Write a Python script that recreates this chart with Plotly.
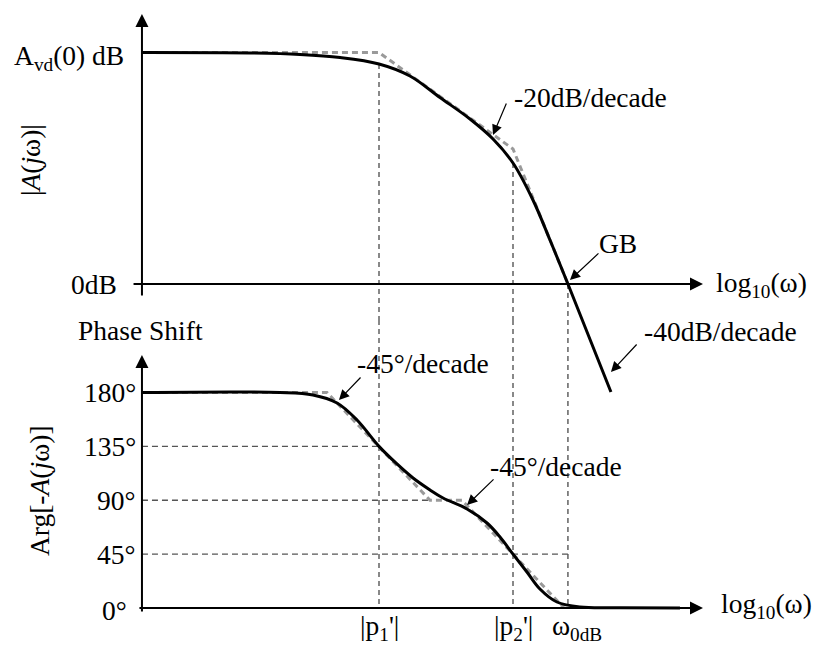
import plotly.graph_objects as go

# ---------------- data: x is log10(ω), magnitude in dB, phase in degrees ----------------
log_p1 = 2.0
log_p2 = 3.0
log_w0db = 3.41
avd0_db = 48.0

# exact magnitude response |A(jω)|
mag_logw = [0.231, 1.037, 1.410, 1.709, 2.0, 2.231, 2.455, 2.679, 2.851, 3.0,
            3.149, 3.276, 3.41, 3.731]
mag_db = [48.0, 47.9, 47.59, 46.96, 45.62, 43.13, 38.67, 34.21, 30.06, 25.09,
          17.42, 9.12, 0.0, -22.39]

# straight-line (asymptotic) magnitude
mag_asym_logw = [0.231, 2.0, 3.0, 3.41]
mag_asym_db = [48.0, 48.0, 28.0, 0.0]

# exact phase response Arg[-A(jω)]
ph_logw = [0.231, 1.261, 1.507, 1.687, 1.836, 2.0, 2.134, 2.254, 2.381, 2.478,
           2.657, 2.806, 2.903, 3.0, 3.104, 3.201, 3.328, 3.5, 3.799, 4.246]
ph_deg = [180, 180, 177.9, 171.2, 157.0, 135.0, 120.3, 108.6, 98.6, 91.9,
          82.7, 71.0, 59.3, 45.0, 30.1, 15.9, 5.0, 0.8, 0.2, 0.0]

# straight-line (asymptotic) phase
ph_asym_logw = [0.231, 1.612, 2.381, 2.619, 3.381]
ph_asym_deg = [180, 180, 90, 90, 0]

# phase tick labels and guide lines
ph_ticks = [180, 135, 90, 45, 0]
ph_guides = [135, 90, 45]
ph_guide_end = [2.0, 2.381, 3.41]

# ---------------- layout calibration ----------------
W, H = 817, 645
X_RANGE = [-0.8284, 5.2687]
MAG_DOMAIN = [1 - 400 / H, 1]
PH_DOMAIN = [0, 1 - 320 / H]
MAG_RANGE = [-24.052, 58.886]
MAG_PANEL_BOTTOM = -7.464   # magnitude value where the phase panel begins
PH_RANGE = [-30.905, 240.557]
AX0 = 0.231  # log10(ω) where the vertical axes sit

FONT = "Liberation Serif, Times New Roman, serif"
FS = 27.5
BLACK = "#000000"

fig = go.Figure()

def line(x, y, ax, color, width, dash=None, shape="linear"):
    fig.add_trace(go.Scatter(
        x=x, y=y, mode="lines", xaxis="x" if ax == 1 else "x2",
        yaxis="y" if ax == 1 else "y2",
        line=dict(color=color, width=width, dash=dash, shape=shape),
        hoverinfo="skip", showlegend=False))

VDASH = "5px,4px"
# vertical markers at |p1'|, |p2'| and ω0dB
for xv, y_top in [(log_p1, mag_db[4]), (log_p2, mag_db[9]), (log_w0db, 0.0)]:
    line([xv, xv], [y_top, MAG_PANEL_BOTTOM], 1, "#3a3a3a", 1.2, VDASH)
    line([xv, xv], [PH_RANGE[1], 0], 2, "#3a3a3a", 1.2, VDASH)

# horizontal guide lines in the phase panel
for yv, xe in zip(ph_guides, ph_guide_end):
    line([AX0, xe], [yv, yv], 2, "#555555", 1.3, "6px,4px")

# asymptotes
line(mag_asym_logw, mag_asym_db, 1, "#9a9a9a", 3, "6px,4px")
line(ph_asym_logw, ph_asym_deg, 2, "#9a9a9a", 3, "6px,4px")

# exact responses
line(mag_logw, mag_db, 1, BLACK, 3, shape="spline")
line(ph_logw, ph_deg, 2, BLACK, 3, shape="spline")

ann = []

def arrow(x, y, ax_, ay_, panel, width=2, size=1.3, head=2):
    xr = "x" if panel == 1 else "x2"
    yr = "y" if panel == 1 else "y2"
    ann.append(dict(x=x, y=y, ax=ax_, ay=ay_, xref=xr, yref=yr, axref=xr, ayref=yr,
                    text="", showarrow=True, arrowhead=head, arrowsize=size,
                    arrowwidth=width, arrowcolor=BLACK))

def label(x, y, text, panel, xanchor="center", yanchor="middle", angle=0, size=FS):
    ann.append(dict(x=x, y=y, text=text, xref="x" if panel == 1 else "x2",
                    yref="y" if panel == 1 else "y2", showarrow=False,
                    xanchor=xanchor, yanchor=yanchor, textangle=angle, borderpad=0,
                    font=dict(family=FONT, size=size, color=BLACK)))

# axes with arrow heads
arrow(AX0, 55.98, AX0, -2.7, 1)
arrow(4.418, 0, 0.157, 0, 1)
arrow(AX0, 211.3, AX0, -4.18, 2)
arrow(4.418, 0, 0.201, 0, 2)

# pointer arrows
arrow(2.851, 30.89, 2.955, 37.74, 1, 1.2, 1.7)
arrow(3.425, 0.83, 3.649, 6.63, 1, 1.2, 1.7)
arrow(3.731, -18.25, 3.933, -12.23, 1, 1.2, 1.7)
arrow(1.701, 173.7, 1.873, 193.8, 2, 1.2, 1.7)
arrow(2.657, 86.0, 2.866, 108.6, 2, 1.2, 1.7)

# magnitude panel text
label(0.1045, 46.9, "A<sub>vd</sub>(0) dB", 1, xanchor="right")
label(0.0522, 0.0, "0dB", 1, xanchor="right")
label(-0.6045, 25.7, "|<i>A</i>(<i>j</i>ω)|", 1, angle=-90)
label(3.582, 38.6, "-20dB/decade", 1)
label(3.784, 8.5, "GB", 1)
label(4.507, -0.2, "log<sub>10</sub>(ω)", 1, xanchor="left")
label(4.545, -9.95, "-40dB/decade", 1)

# phase panel text
label(0.2164, 232.2, "Phase Shift", 2)
label(2.328, 204.6, "-45°/decade", 2)
label(3.321, 117.8, "-45°/decade", 2)
for t in ph_ticks:
    label(0.194 if t else 0.127, t if t else -1.7, f"{t}°", 2, xanchor="right")
label(-0.537, 97.7, "Arg[-<i>A</i>(<i>j</i>ω)]", 2, angle=-90)
label(log_p1, -15.9, "|p<sub>1</sub>'|", 2)
label(log_p2, -15.9, "|p<sub>2</sub>'|", 2)
label(3.478, -15.9, "ω<sub>0dB</sub>", 2)
label(4.545, 2.5, "log<sub>10</sub>(ω)", 2, xanchor="left")

hidden = dict(visible=False, showgrid=False, zeroline=False, fixedrange=True)
fig.update_layout(
    width=W, height=H, margin=dict(l=0, r=0, t=0, b=0),
    paper_bgcolor="white", plot_bgcolor="rgba(0,0,0,0)",
    xaxis=dict(hidden, range=X_RANGE, domain=[0, 1], anchor="y"),
    yaxis=dict(hidden, range=MAG_RANGE, domain=MAG_DOMAIN, anchor="x"),
    xaxis2=dict(hidden, range=X_RANGE, domain=[0, 1], anchor="y2"),
    yaxis2=dict(hidden, range=PH_RANGE, domain=PH_DOMAIN, anchor="x2"),
    annotations=ann,
    showlegend=False,
)

fig.write_html("out.html")
